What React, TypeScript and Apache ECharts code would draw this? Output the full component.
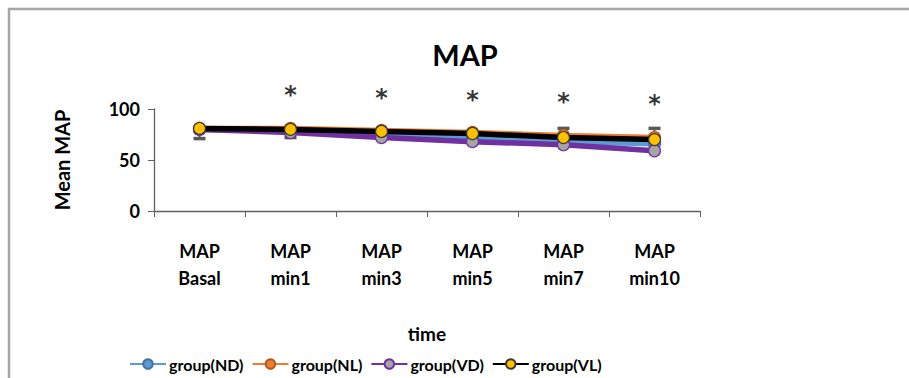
import React, { useEffect, useRef } from "react";
import * as echarts from "echarts";

const categories = ["MAP\nBasal", "MAP\nmin1", "MAP\nmin3", "MAP\nmin5", "MAP\nmin7", "MAP\nmin10"];
const yTicks = [0, 50, 100];
const groupND = [80, 79, 75, 71, 68, 66];
const groupNL = [81, 81, 79, 77, 74, 72];
const groupVD = [80, 77, 72, 68, 65, 59];
const groupVL = [81, 80, 78, 76, 72, 70];
// error bars: [category index, from, to]
const errorBars = [
  [0, 80, 71],
  [1, 79, 72],
  [4, 72, 81],
  [5, 70, 81],
];
// significance markers: [category index, height]
const starMarks = [
  [1, 114],
  [2, 111],
  [3, 109],
  [4, 107],
  [5, 105],
];

const FONT = "Lato";

export default function App() {
  const ref = useRef<HTMLDivElement>(null);
  useEffect(() => {
    if (!ref.current) return;
    const chart = echarts.init(ref.current, null, { renderer: "svg" });
    const lineSeries = (name: string, data: number[], line: string, fill: string, border: string, z: number) => ({
      name,
      type: "line",
      data,
      z,
      symbol: "circle",
      symbolSize: 12,
      lineStyle: { color: line, width: 5.5 },
      itemStyle: { color: fill, borderColor: border, borderWidth: 1.2 },
    });
    chart.setOption({
      animation: false,
      backgroundColor: "#ffffff",
      title: {
        text: "MAP",
        left: 460,
        top: 35,
        textAlign: "center",
        textStyle: { fontFamily: FONT, fontSize: 29, fontWeight: "bold", color: "#000" },
      },
      graphic: [
        {
          type: "rect",
          shape: { x: 9, y: 9, width: 1000, height: 1000 },
          style: { fill: "none", stroke: "#a6a6a6", lineWidth: 2.5 },
          silent: true,
        },
      ],
      legend: {
        data: ["group(ND)", "group(NL)", "group(VD)", "group(VL)"],
        left: 124,
        top: 351,
        itemGap: 8,
        itemWidth: 36,
        itemHeight: 12,
        lineStyle: { width: 2 },
        textStyle: { fontFamily: FONT, fontSize: 16, fontWeight: "bold", color: "#000", padding: [0, 0, 0, -2] },
      },
      grid: { left: 154, right: 209, top: 109, bottom: 167 },
      xAxis: {
        type: "category",
        data: categories,
        boundaryGap: true,
        name: "time",
        nameLocation: "middle",
        nameGap: 113,
        nameTextStyle: { fontFamily: FONT, fontSize: 19, fontWeight: "bold", color: "#000" },
        axisLine: { lineStyle: { color: "#606060", width: 1.3 } },
        axisTick: { show: true, length: 6, lineStyle: { color: "#606060" } },
        axisLabel: {
          fontFamily: FONT,
          fontSize: 18,
          fontWeight: "bold",
          color: "#000",
          lineHeight: 27,
          margin: 26,
        },
      },
      yAxis: {
        type: "value",
        min: yTicks[0],
        max: yTicks[yTicks.length - 1],
        interval: 50,
        name: "Mean MAP",
        nameLocation: "middle",
        nameGap: 82,
        nameTextStyle: { fontFamily: FONT, fontSize: 20, fontWeight: "bold", color: "#000" },
        splitLine: { show: false },
        axisLine: { show: true, lineStyle: { color: "#606060", width: 1.3 } },
        axisTick: { show: true, length: 6, lineStyle: { color: "#606060" } },
        axisLabel: { fontFamily: FONT, fontSize: 18, fontWeight: "bold", color: "#000", margin: 14 },
      },
      series: [
        {
          name: "err",
          type: "custom",
          z: 1,
          data: errorBars,
          renderItem: (params: any, api: any) => {
            const a = api.coord([api.value(0), api.value(1)]);
            const b = api.coord([api.value(0), api.value(2)]);
            return {
              type: "group",
              children: [
                { type: "line", shape: { x1: a[0], y1: a[1], x2: b[0], y2: b[1] }, style: { stroke: "#595959", lineWidth: 2 } },
                { type: "line", shape: { x1: b[0] - 6, y1: b[1], x2: b[0] + 6, y2: b[1] }, style: { stroke: "#595959", lineWidth: 3.5 } },
              ],
            };
          },
        },
        lineSeries("group(ND)", groupND, "#5b9bd5", "#5b9bd5", "#41719c", 2),
        lineSeries("group(NL)", groupNL, "#ed7d31", "#ed7d31", "#ae5a21", 3),
        lineSeries("group(VD)", groupVD, "#7030a0", "#a5a5a5", "#7030a0", 4),
        lineSeries("group(VL)", groupVL, "#000000", "#ffc000", "#3a3a3a", 5),
        {
          name: "sig",
          type: "scatter",
          clip: false,
          z: 6,
          symbol: "circle",
          symbolSize: 1,
          itemStyle: { color: "rgba(0,0,0,0)" },
          data: starMarks,
          label: {
            show: true,
            position: "inside",
            formatter: "*",
            fontFamily: "DejaVu Sans",
            fontSize: 24,
            fontWeight: "bold",
            color: "#000",
          },
        },
      ],
    });
    return () => chart.dispose();
  }, []);
  return <div ref={ref} style={{ position: "fixed", left: 0, top: 0, width: 909, height: 378 }} />;
}
